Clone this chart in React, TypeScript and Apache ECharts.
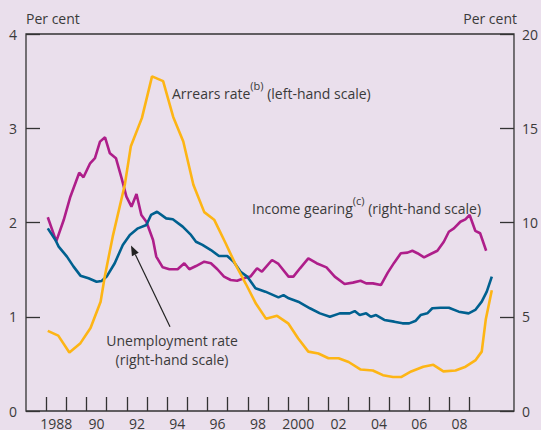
import React, { useEffect, useRef } from "react";
import * as echarts from "echarts";

// ---- Data ----
// Arrears rate (left-hand scale, per cent)
const arrearsYears = [
  1988.08, 1988.6, 1989.15, 1989.7, 1990.2, 1990.7, 1990.9, 1991.3, 1991.9, 1992.2,
  1992.75, 1993.25, 1993.8, 1994.3, 1994.8, 1995.3, 1995.84, 1996.33, 1996.9, 1997.4,
  1997.9, 1998.4, 1998.9, 1999.45, 2000.0, 2000.5, 2001.0, 2001.5, 2002.0, 2002.5,
  2003.0, 2003.6, 2004.2, 2004.7, 2005.2, 2005.6, 2006.1, 2006.7, 2007.2, 2007.7,
  2008.3, 2008.8, 2009.3, 2009.6, 2009.8, 2010.1,
];
const arrearsValues = [
  0.85, 0.8, 0.62, 0.72, 0.88, 1.16, 1.42, 1.85, 2.4, 2.81,
  3.11, 3.55, 3.5, 3.12, 2.86, 2.4, 2.11, 2.03, 1.78, 1.55,
  1.35, 1.14, 0.98, 1.01, 0.93, 0.77, 0.63, 0.61, 0.56, 0.56,
  0.52, 0.44, 0.43, 0.38, 0.36, 0.36, 0.42, 0.47, 0.49, 0.42,
  0.43, 0.47, 0.54, 0.63, 0.97, 1.28,
];

// Unemployment rate (right-hand scale, per cent)
const unemploymentYears = [
  1988.08, 1988.46, 1988.62, 1989.03, 1989.36, 1989.7, 1990.1, 1990.5, 1990.75, 1991.0,
  1991.4, 1991.8, 1992.15, 1992.55, 1992.97, 1993.2, 1993.5, 1993.95, 1994.28, 1994.77,
  1995.18, 1995.43, 1995.75, 1996.17, 1996.57, 1996.98, 1997.3, 1997.64, 1997.97, 1998.38,
  1998.87, 1999.52, 1999.77, 2000.03, 2000.5, 2001.08, 2001.58, 2002.07, 2002.56, 2003.05,
  2003.3, 2003.55, 2003.87, 2004.1, 2004.36, 2004.77, 2005.26, 2005.67, 2006.0, 2006.33,
  2006.57, 2006.9, 2007.15, 2007.56, 2007.97, 2008.46, 2008.95, 2009.28, 2009.6, 2009.85,
  2010.1,
];
const unemploymentValues = [
  9.69, 9.07, 8.72, 8.19, 7.66, 7.18, 7.04, 6.86, 6.9, 7.13,
  7.84, 8.81, 9.34, 9.69, 9.87, 10.4, 10.57, 10.22, 10.17, 9.78,
  9.34, 8.98, 8.81, 8.54, 8.22, 8.22, 7.92, 7.39, 7.13, 6.51,
  6.33, 6.03, 6.15, 5.98, 5.8, 5.45, 5.18, 5.0, 5.18, 5.18,
  5.3, 5.09, 5.18, 5.0, 5.09, 4.83, 4.74, 4.65, 4.65, 4.79,
  5.09, 5.18, 5.45, 5.48, 5.48, 5.27, 5.18, 5.36, 5.8, 6.33,
  7.13,
];

// Income gearing (right-hand scale, per cent)
const gearingYears = [
  1988.08, 1988.5, 1988.87, 1989.2, 1989.64, 1989.85, 1990.18, 1990.42, 1990.67, 1990.92,
  1991.16, 1991.46, 1991.74, 1991.98, 1992.23, 1992.48, 1992.72, 1992.97, 1993.3, 1993.46,
  1993.78, 1994.11, 1994.52, 1994.85, 1995.1, 1995.43, 1995.84, 1996.17, 1996.49, 1996.82,
  1997.15, 1997.47, 1997.8, 1998.13, 1998.46, 1998.7, 1999.2, 1999.52, 2000.02, 2000.26,
  2000.59, 2001.0, 2001.41, 2001.9, 2002.31, 2002.8, 2003.21, 2003.59, 2003.87, 2004.2,
  2004.6, 2004.94, 2005.26, 2005.59, 2005.92, 2006.16, 2006.41, 2006.74, 2007.07, 2007.4,
  2007.72, 2007.97, 2008.22, 2008.54, 2008.79, 2009.0, 2009.28, 2009.52, 2009.82,
];
const gearingValues = [
  10.28, 9.0, 10.13, 11.37, 12.64, 12.4, 13.14, 13.41, 14.29, 14.52,
  13.67, 13.41, 12.35, 11.37, 10.84, 11.51, 10.4, 10.04, 9.07, 8.19,
  7.62, 7.52, 7.52, 7.84, 7.52, 7.69, 7.92, 7.84, 7.52, 7.13,
  6.95, 6.91, 7.04, 7.13, 7.57, 7.39, 8.01, 7.8, 7.13, 7.13,
  7.57, 8.1, 7.84, 7.62, 7.13, 6.74, 6.81, 6.91, 6.77, 6.77,
  6.68, 7.34, 7.87, 8.37, 8.4, 8.5, 8.37, 8.15, 8.33, 8.5,
  8.98, 9.51, 9.69, 10.04, 10.17, 10.4, 9.56, 9.43, 8.5,
];

// Axis ticks and labels
const xTickValues = [
  1988, 1989, 1990, 1991, 1992, 1993, 1994, 1995, 1996, 1997, 1998,
  1999, 2000, 2001, 2002, 2003, 2004, 2005, 2006, 2007, 2008, 2009,
];
const xLabelValues = [1988.5, 1990.5, 1992.5, 1994.5, 1996.5, 1998.5, 2000.5, 2002.5, 2004.5, 2006.5, 2008.5];
const xLabelTexts = ["1988", "90", "92", "94", "96", "98", "2000", "02", "04", "06", "08"];

const FONT = "'Open Sans', 'Noto Sans', sans-serif";
const TEXT_COLOR = "#3a3a3a";
const BG = "#EADFEC";
const ORANGE = "#FDB515";
const MAGENTA = "#AE1E8A";
const BLUE = "#00608F";

const zip = (xs: number[], ys: number[]) => xs.map((x, i) => [x, ys[i]]);

export default function App() {
  const ref = useRef<HTMLDivElement>(null);

  useEffect(() => {
    if (!ref.current) return;
    const chart = echarts.init(ref.current, null, { renderer: "svg" });

    // arrow geometry (annotation)
    const tip = [131, 245.5];
    const start = [170, 326.7];
    const dx = tip[0] - start[0];
    const dy = tip[1] - start[1];
    const len = Math.sqrt(dx * dx + dy * dy);
    const ux = dx / len;
    const uy = dy / len;
    const headLen = 10;
    const headHalf = 3.8;
    const bx = tip[0] - ux * headLen;
    const by = tip[1] - uy * headLen;
    const px = -uy;
    const py = ux;

    const labelStyle = {
      fontSize: 14,
      fontFamily: FONT,
      color: TEXT_COLOR,
    };

    chart.setOption({
      animation: false,
      backgroundColor: BG,
      textStyle: { fontFamily: FONT },
      grid: {
        left: 26,
        right: 24,
        top: 34,
        bottom: 19,
        show: true,
        borderColor: "#333333",
        borderWidth: 1.3,
        backgroundColor: "transparent",
      },
      xAxis: {
        type: "value",
        min: 1987,
        max: 2011.2,
        axisLine: { show: false },
        splitLine: { show: false },
        axisTick: {
          show: true,
          inside: true,
          length: 14,
          customValues: xTickValues,
          lineStyle: { color: "#333333", width: 1.3 },
        },
        axisLabel: {
          customValues: xLabelValues,
          margin: 5,
          ...labelStyle,
          formatter: (v: number) => {
            const i = xLabelValues.findIndex((x) => Math.abs(x - v) < 0.01);
            return i >= 0 ? xLabelTexts[i] : "";
          },
        },
      },
      yAxis: [
        {
          type: "value",
          min: 0,
          max: 4,
          interval: 1,
          position: "left",
          axisLine: { show: false },
          splitLine: { show: false },
          axisTick: {
            show: true,
            inside: true,
            length: 14,
            lineStyle: { color: "#333333", width: 1.3 },
          },
          axisLabel: { margin: 9, ...labelStyle },
        },
        {
          type: "value",
          min: 0,
          max: 20,
          interval: 5,
          position: "right",
          axisLine: { show: false },
          splitLine: { show: false },
          axisTick: {
            show: true,
            inside: true,
            length: 14,
            lineStyle: { color: "#333333", width: 1.3 },
          },
          axisLabel: { margin: 8, ...labelStyle },
        },
      ],
      series: [
        {
          name: "Arrears rate",
          type: "line",
          yAxisIndex: 0,
          showSymbol: false,
          data: zip(arrearsYears, arrearsValues),
          lineStyle: { color: ORANGE, width: 2.6 },
          itemStyle: { color: ORANGE },
          z: 3,
        },
        {
          name: "Unemployment rate",
          type: "line",
          yAxisIndex: 1,
          showSymbol: false,
          data: zip(unemploymentYears, unemploymentValues),
          lineStyle: { color: BLUE, width: 2.6 },
          itemStyle: { color: BLUE },
          z: 2,
        },
        {
          name: "Income gearing",
          type: "line",
          yAxisIndex: 1,
          showSymbol: false,
          data: zip(gearingYears, gearingValues),
          lineStyle: { color: MAGENTA, width: 2.6 },
          itemStyle: { color: MAGENTA },
          z: 1,
        },
      ],
      graphic: [
        {
          type: "text",
          left: 26,
          top: 11,
          style: { text: "Per cent", fontSize: 14, fontFamily: FONT, fill: TEXT_COLOR },
        },
        {
          type: "text",
          right: 24,
          top: 11,
          style: { text: "Per cent", fontSize: 14, fontFamily: FONT, fill: TEXT_COLOR },
        },
        {
          type: "text",
          x: 172,
          y: 90,
          style: {
            text: "{a|Arrears rate}{s|(b)}{a| (left-hand scale)}",
            textVerticalAlign: "middle",
            fill: TEXT_COLOR,
            rich: {
              a: { fontSize: 14, fontFamily: FONT, fill: TEXT_COLOR, lineHeight: 20, verticalAlign: "bottom" },
              s: { fontSize: 11, fontFamily: FONT, fill: TEXT_COLOR, lineHeight: 20, verticalAlign: "top" },
            },
          },
        },
        {
          type: "text",
          x: 252,
          y: 205,
          style: {
            text: "{a|Income gearing}{s|(c)}{a| (right-hand scale)}",
            textVerticalAlign: "middle",
            fill: TEXT_COLOR,
            rich: {
              a: { fontSize: 14, fontFamily: FONT, fill: TEXT_COLOR, lineHeight: 20, verticalAlign: "bottom" },
              s: { fontSize: 11, fontFamily: FONT, fill: TEXT_COLOR, lineHeight: 20, verticalAlign: "top" },
            },
          },
        },
        {
          type: "text",
          x: 172,
          y: 340,
          style: {
            text: "Unemployment rate",
            fontSize: 14,
            fontFamily: FONT,
            fill: TEXT_COLOR,
            textAlign: "center",
            textVerticalAlign: "middle",
          },
        },
        {
          type: "text",
          x: 172,
          y: 359.5,
          style: {
            text: "(right-hand scale)",
            fontSize: 14,
            fontFamily: FONT,
            fill: TEXT_COLOR,
            textAlign: "center",
            textVerticalAlign: "middle",
          },
        },
        {
          type: "line",
          shape: { x1: start[0], y1: start[1], x2: bx, y2: by },
          style: { stroke: "#222222", lineWidth: 1.2 },
        },
        {
          type: "polygon",
          shape: {
            points: [
              [tip[0], tip[1]],
              [bx + px * headHalf, by + py * headHalf],
              [bx - px * headHalf, by - py * headHalf],
            ],
          },
          style: { fill: "#222222" },
        },
      ],
    });

    return () => chart.dispose();
  }, []);

  return (
    <div
      ref={ref}
      style={{ position: "fixed", left: 0, top: 0, width: 541, height: 430, background: BG }}
    />
  );
}
